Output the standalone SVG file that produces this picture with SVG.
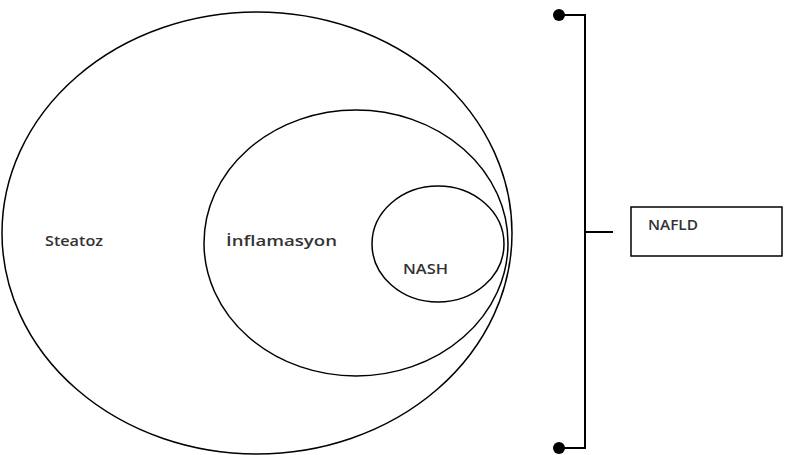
<svg xmlns="http://www.w3.org/2000/svg" width="790" height="455" viewBox="0 0 790 455">
<style>
.c{fill:none;stroke:#000;stroke-width:1.5}
.t{font-family:"Open Sans","Liberation Sans",sans-serif;font-size:14px;font-weight:600;fill:#333}
.l{fill:none;stroke:#000;stroke-width:2}
</style>
<rect width="790" height="455" fill="#fff"/>
<g id="steatoz"><ellipse class="c" cx="257" cy="233" rx="255" ry="221"/><text class="t" x="45" y="246" textLength="58" lengthAdjust="spacingAndGlyphs">Steatoz</text></g>
<g id="inflamasyon"><ellipse class="c" cx="356" cy="243" rx="152" ry="133"/><text class="t" x="226" y="246" textLength="111" lengthAdjust="spacingAndGlyphs">İnflamasyon</text></g>
<g id="nash"><ellipse class="c" cx="438" cy="244" rx="66" ry="58"/><text class="t" x="403" y="274" textLength="45" lengthAdjust="spacingAndGlyphs">NASH</text></g>
<g id="connectors">
<path class="l" d="M559 15H585V448H559M585 232H613"/>
<circle cx="559" cy="15" r="6"/>
<circle cx="559" cy="448" r="6"/>
</g>
<g id="nafld"><rect x="631" y="207" width="151" height="49" fill="#fff" stroke="#000" stroke-width="1.5"/><text class="t" x="648" y="230" textLength="50" lengthAdjust="spacingAndGlyphs">NAFLD</text></g>
</svg>
